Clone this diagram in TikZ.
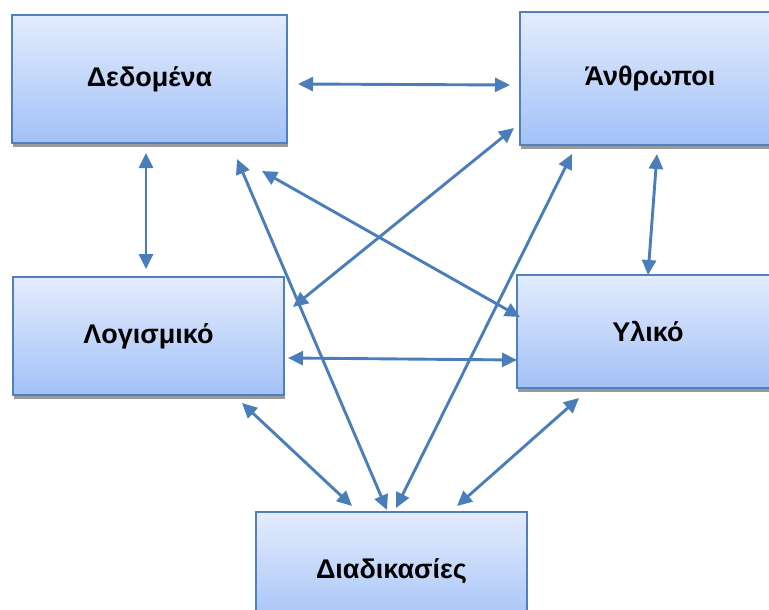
\documentclass[tikz,border=0pt]{standalone}
\usepackage{fontspec}
\setmainfont{Liberation Sans}
\usetikzlibrary{arrows.meta,shadows}
\definecolor{boxline}{HTML}{5080BE}
\definecolor{boxtop}{HTML}{E4ECFD}
\definecolor{boxbottom}{HTML}{A2C1F7}
\definecolor{arrowblue}{HTML}{4A7EBB}
\tikzset{
  block/.style={draw=boxline, line width=1.3pt, top color=boxtop, bottom color=boxbottom,
    inner sep=0pt, font=\fontsize{27}{31}\selectfont\bfseries, text=black,
    drop shadow={shadow xshift=1pt, shadow yshift=-3.5pt, fill=black!40, opacity=1}},
  link/.style={draw=arrowblue, line width=2.9pt,
    {Triangle[length=15pt,width=14pt]}-{Triangle[length=15pt,width=14pt]}}
}
\begin{document}
\begin{tikzpicture}[x=1pt,y=-1pt]
  \useasboundingbox (0,0) rectangle (769,610);
  \clip (0,0) rectangle (769,610);
  % the five components
  \node[block, minimum width=275pt, minimum height=128pt] (data) at (149.5,79) {\raisebox{3pt}{Δεδομένα}};
  \node[block, minimum width=260pt, minimum height=133pt] (people) at (650,78.5) {\raisebox{3pt}{Άνθρωποι}};
  \node[block, minimum width=271pt, minimum height=118pt] (soft) at (148.5,336) {\raisebox{1pt}{Λογισμικό}};
  \node[block, minimum width=262pt, minimum height=113pt] (hard) at (648,331.5) {Υλικό};
  \node[block, minimum width=271pt, minimum height=118pt] (proc) at (391.5,571) {Διαδικασίες};
  % arrow end points
  \coordinate (d1) at (298,84);   \coordinate (p1) at (510,85);
  \coordinate (d2) at (146,153);  \coordinate (s1) at (146,269);
  \coordinate (p2) at (657,154);  \coordinate (h1) at (648,275);
  \coordinate (p3) at (572,154);  \coordinate (r1) at (396,508);
  \coordinate (d3) at (237,159);  \coordinate (r2) at (387,510);
  \coordinate (d4) at (262,171);  \coordinate (h2) at (520,317);
  \coordinate (p4) at (514,128);  \coordinate (s2) at (293,307);
  \coordinate (s3) at (288,358);  \coordinate (h3) at (517,360);
  \coordinate (s4) at (242,403);  \coordinate (r3) at (352,506);
  \coordinate (h4) at (579,398);  \coordinate (r4) at (457,506);
  % connections
  \draw[link] (d1) -- (p1);
  \draw[link] (d2) -- (s1);
  \draw[link] (p2) -- (h1);
  \draw[link] (p3) -- (r1);
  \draw[link] (d3) -- (r2);
  \draw[link] (d4) -- (h2);
  \draw[link] (p4) -- (s2);
  \draw[link] (s3) -- (h3);
  \draw[link] (s4) -- (r3);
  \draw[link] (h4) -- (r4);
\end{tikzpicture}
\end{document}
